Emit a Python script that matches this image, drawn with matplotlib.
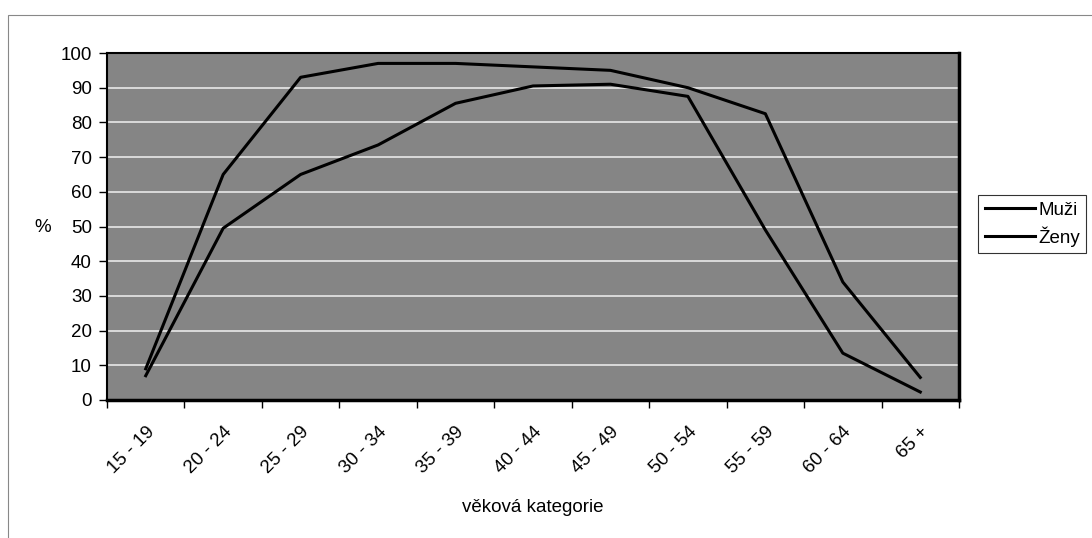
import matplotlib.pyplot as plt
import numpy as np
from matplotlib.patches import Rectangle

plt.rcParams["font.family"] = ["Liberation Sans", "DejaVu Sans"]

categories = ["15 - 19", "20 - 24", "25 - 29", "30 - 34", "35 - 39", "40 - 44",
              "45 - 49", "50 - 54", "55 - 59", "60 - 64", "65 +"]
muzi = [9, 65, 93, 97, 97, 96, 95, 90, 82.5, 34, 6.5]
zeny = [7, 49.5, 65, 73.5, 85.5, 90.5, 91, 87.5, 49, 13.5, 2.3]

FS = 13.5

fig = plt.figure(figsize=(10.92, 5.38), dpi=100)
ax = fig.add_axes([107 / 1092, 1 - 400 / 538, (959 - 107) / 1092, (400 - 53) / 538])
ax.set_facecolor("#858585")

x = np.arange(len(categories))
ax.plot(x, muzi, color="black", lw=2.2, label="Muži", zorder=3)
ax.plot(x, zeny, color="black", lw=2.2, label="Ženy", zorder=3)

ax.set_xlim(-0.5, len(categories) - 0.5)
ax.set_ylim(0, 100)
ax.set_yticks(range(0, 101, 10))
ax.yaxis.grid(True, color="#e8e8e8", lw=1.2)
ax.set_axisbelow(True)

ax.set_xticks(np.arange(-0.5, len(categories), 1))
ax.set_xticklabels([])
ax.set_xticks(x, minor=True)
ax.set_xticklabels(categories, minor=True, rotation=45, ha="right", va="top",
                   rotation_mode="anchor", fontsize=FS)
ax.tick_params(axis="x", which="minor", length=0, pad=17)
ax.tick_params(axis="x", which="major", length=6, width=1, direction="out")
ax.tick_params(axis="y", length=6, width=1, labelsize=FS, pad=5)

for s in ax.spines.values():
    s.set_color("black")
    s.set_linewidth(1.5)
ax.spines["right"].set_linewidth(2.5)
ax.spines["bottom"].set_linewidth(2.5)

fig.text(43 / 1092, 1 - 227 / 538, "%", fontsize=FS, ha="center", va="center")
fig.text(533 / 1092, 1 - 508 / 538, "věková kategorie", fontsize=FS,
         ha="center", va="center")

fig.legend(loc="center left", bbox_to_anchor=(978 / 1092, 1 - 224 / 538),
           frameon=True, fancybox=False, edgecolor="black", fontsize=FS,
           handlelength=2.7, handletextpad=0.15, borderpad=0.35, labelspacing=0.4,
           borderaxespad=0).get_frame().set_linewidth(0.8)

fig.patches.append(Rectangle((8 / 1092, -0.01), 1.0, 1 - 15 / 538 + 0.01,
                             transform=fig.transFigure, fill=False,
                             edgecolor="#888888", lw=0.8))

fig.savefig("out.png", dpi=100)
